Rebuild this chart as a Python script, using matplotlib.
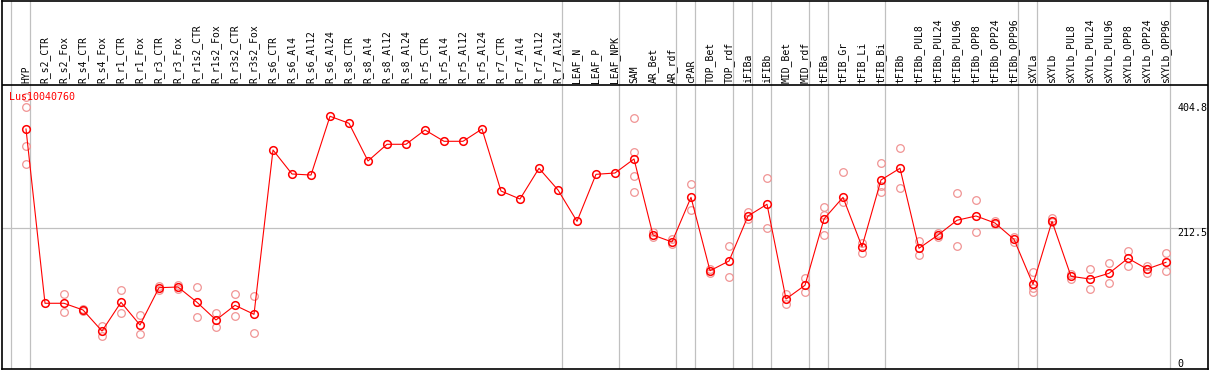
import matplotlib
matplotlib.use("Agg")
import matplotlib.pyplot as plt

# expression profile of one gene across samples
gene = "Lus10040760"

samples = ["HYP", "R_s2_CTR", "R_s2_Fox", "R_s4_CTR", "R_s4_Fox", "R_r1_CTR",
           "R_r1_Fox", "R_r3_CTR", "R_r3_Fox", "R_r1s2_CTR", "R_r1s2_Fox",
           "R_r3s2_CTR", "R_r3s2_Fox", "R_s6_CTR", "R_s6_Al4", "R_s6_Al12",
           "R_s6_Al24", "R_s8_CTR", "R_s8_Al4", "R_s8_Al12", "R_s8_Al24",
           "R_r5_CTR", "R_r5_Al4", "R_r5_Al12", "R_r5_Al24", "R_r7_CTR",
           "R_r7_Al4", "R_r7_Al12", "R_r7_Al24", "LEAF_N", "LEAF_P", "LEAF_NPK",
           "SAM", "AR_Bet", "AR_rdf", "cPAR", "TOP_Bet", "TOP_rdf", "iFIBa",
           "iFIBb", "MID_Bet", "MID_rdf", "tFIBa", "tFIB_Gr", "tFIB_Li",
           "tFIB_Bi", "tFIBb", "tFIBb_PUL8", "tFIBb_PUL24", "tFIBb_PUL96",
           "tFIBb_OPP8", "tFIBb_OPP24", "tFIBb_OPP96", "sXYLa", "sXYLb",
           "sXYLb_PUL8", "sXYLb_PUL24", "sXYLb_PUL96", "sXYLb_OPP8",
           "sXYLb_OPP24", "sXYLb_OPP96"]

means = [364.6, 96.5, 96.5, 86.2, 53.8, 98.0, 63.1, 120.5, 121.5, 98.0, 70.8,
         93.4, 79.5, 332.3, 295.4, 293.8, 384.2, 373.4, 315.4, 341.1, 341.1,
         363.1, 345.7, 345.7, 364.6, 269.2, 256.9, 304.2, 270.8, 222.6, 294.9,
         296.9, 318.5, 201.5, 190.8, 259.5, 146.6, 161.5, 230.8, 248.8, 103.1,
         124.2, 226.2, 259.5, 183.5, 286.2, 304.2, 181.1, 201.5, 224.2, 230.8,
         220.0, 194.9, 125.7, 222.6, 138.0, 133.8, 142.6, 165.7, 149.2, 159.5]

# single replicates (empty where only the mean was measured)
reps = [[413.8, 398.5, 338.5, 310.8], [], [110.3, 82.6], [87.7, 84.6],
        [62.0, 46.6], [116.5, 81.1], [78.0, 48.8], [123.5, 117.4],
        [124.6, 118.5], [121.5, 75.4], [81.1, 60.5], [110.3, 76.5],
        [108.2, 50.3], [], [], [], [], [], [], [], [], [], [], [], [], [],
        [], [], [], [], [], [],
        [381.5, 329.7, 292.3, 267.2], [205.4, 197.7], [195.8, 187.2],
        [279.5, 239.5], [150.0, 143.8], [184.2, 136.5], [236.9, 225.7],
        [289.2, 211.8], [110.3, 95.4], [134.9, 114.3],
        [244.2, 232.8, 201.1], [252.8, 298.0], [189.7, 173.4],
        [312.2, 276.9, 267.2], [335.8, 273.4], [192.3, 170.3],
        [204.6, 198.5], [265.7, 184.6], [254.9, 205.7], [223.5, 218.5],
        [198.9, 190.8], [144.2, 119.5, 114.3], [228.2, 221.5],
        [141.1, 133.8], [149.2, 118.0], [158.0, 127.2], [176.9, 154.3],
        [154.3, 143.1], [173.4, 145.7]]

# group separators are drawn right after these sample indices
group_ends = [-1, 0, 28, 31, 34, 35, 37, 38, 39, 41, 42, 45, 52, 53, 60]
y_labels = [404.8, 212.5, 0]

W, H = 1209, 370
fig = plt.figure(figsize=(W / 100, H / 100), dpi=100)
ax = fig.add_axes([1.5 / W, 1 / H, (1208 - 1.5) / W, (369.5 - 1) / H])

# pixel layout: column i at x = 26 + 19*i, value v at y = 366 - 0.65*v
ax.set_xlim((1.5 - 26) / 19, (1208 - 26) / 19)
ax.set_ylim(-3 / 0.65, 365.5 / 0.65)
ax.set_xticks([])
ax.set_yticks([])
for s in ax.spines.values():
    s.set_linewidth(1.2)
    s.set_color("black")

grey = "#c0c0c0"
for g in group_ends:
    ax.axvline(g + 0.23, color=grey, lw=0.9, zorder=1)
ax.axhline(212.5, color=grey, lw=0.9, zorder=1)

# header band with sample names
header_v = (366 - 85) / 0.65
ax.axhline(header_v, color="black", lw=1.2, zorder=2)
mono = "DejaVu Sans Mono"
for i, name in enumerate(samples):
    ax.text(i, (366 - 83) / 0.65, name, rotation=90, ha="center",
            va="bottom", fontsize=7, family=mono)

# replicates first, then the mean profile on top
pink = "#f09494"
for i, r in enumerate(reps):
    if r:
        ax.plot([i] * len(r), r, ls="none", marker="o", ms=5.5,
                mfc="none", mec=pink, mew=0.9, zorder=3)

ax.plot(range(len(means)), means, color="#ff0000", lw=0.8, marker="o",
        ms=5.5, mfc="none", mec="#ff0000", mew=1.1, zorder=4)

ax.text((9.5 - 26) / 19, (366 - 97) / 0.65, gene, color="#ff0000",
        ha="left", va="center", fontsize=7.2, family=mono, zorder=5)

lab_x = (1177.7 - 26) / 19
for v in y_labels:
    if v == 0:
        ax.text(lab_x, -4, "0", ha="left", va="bottom", fontsize=7.2,
                family=mono)
    else:
        ax.text(lab_x, v, "{}".format(v), ha="left", va="top",
                fontsize=7.2, family=mono)

fig.savefig("out.png", dpi=100)
